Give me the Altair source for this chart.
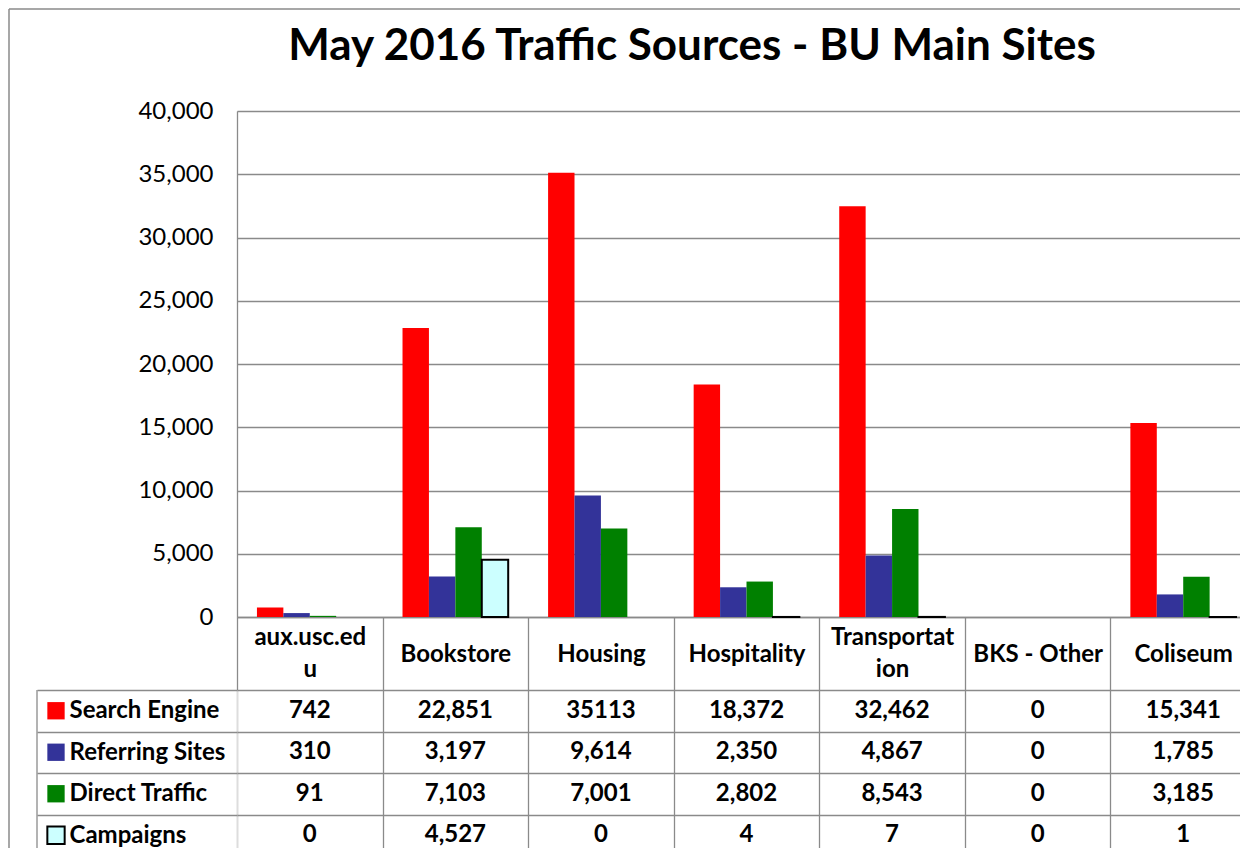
import altair as alt
import pandas as pd

# ---------------- data ----------------
categories = ["aux.usc.edu", "Bookstore", "Housing", "Hospitality",
              "Transportation", "BKS - Other", "Coliseum"]
header_lines = {"aux.usc.edu": ["aux.usc.ed", "u"],
                "Transportation": ["Transportat", "ion"]}
series = ["Search Engine", "Referring Sites", "Direct Traffic", "Campaigns"]
search_engine = [742, 22851, 35113, 18372, 32462, 0, 15341]
referring_sites = [310, 3197, 9614, 2350, 4867, 0, 1785]
direct_traffic = [91, 7103, 7001, 2802, 8543, 0, 3185]
campaigns = [0, 4527, 0, 4, 7, 0, 1]
plain_cells = {("Housing", "Search Engine")}  # shown without separator
colors = ["#FF0000", "#333399", "#008000", "#CCFFFF"]
y_ticks = list(range(0, 40001, 5000))
title_text = "May 2016 Traffic Sources - BU Main Sites"

# ---------------- tables ----------------
rows = []
for s, vals in zip(series, [search_engine, referring_sites, direct_traffic, campaigns]):
    for c, v in zip(categories, vals):
        lab = str(v) if (c, s) in plain_cells else f"{v:,}"
        rows.append({"category": c, "series": s, "value": v, "label": lab})
df = pd.DataFrame(rows)
one = pd.DataFrame({"title": [title_text]})

FONT = "Lato"
GRID = "#8a8a8a"
W, H = 1019, 506
HEAD = 73
BODY = 166
FS = 24
LEFT, TOP = 229, 103          # room for axis labels / title inside the frame
SVG_W, SVG_H = 1232, 840      # visible canvas (page is 1248x856 with 8px margin)

expr = "datum.label"
for k, v in header_lines.items():
    arr = "[" + ",".join(f"'{t}'" for t in v) + "]"
    expr = f"datum.label == '{k}' ? {arr} : " + expr
multi = "[" + ",".join(f"'{k}'" for k in header_lines) + "]"

color_enc = alt.Color("series:N", sort=series,
                      scale=alt.Scale(domain=series, range=colors), legend=None)
stroke_enc = alt.condition(alt.datum.series == "Campaigns",
                           alt.value("black"), alt.value("transparent"))

x_bars = alt.X("category:N", sort=categories,
               scale=alt.Scale(domain=categories, paddingInner=0, paddingOuter=0),
               axis=alt.Axis(title=None, orient="bottom", domainColor=GRID,
                             domainWidth=1.3, ticks=True, tickBand="extent",
                             tickSize=HEAD + BODY, tickColor=GRID, tickWidth=1.3,
                             labelExpr=expr, labelFont=FONT, labelFontSize=FS,
                             labelFontWeight="bold", labelColor="black",
                             labelBaseline="middle",
                             labelPadding={"condition": {
                                 "test": f"indexof({multi}, datum.value) >= 0",
                                 "value": 20 - (HEAD + BODY)},
                                 "value": 37 - (HEAD + BODY)},
                             labelLineHeight=32, labelAngle=0, grid=False,
                             labelLimit=300, labelOverlap=False))

bars = alt.Chart(df).transform_filter(alt.datum.value > 0).mark_bar(
    strokeWidth=2).encode(
    x=x_bars,
    xOffset=alt.XOffset("series:N", sort=series,
                        scale=alt.Scale(domain=series, paddingInner=0, paddingOuter=0.755)),
    y=alt.Y("value:Q", scale=alt.Scale(domain=[0, 40000], nice=False),
            axis=alt.Axis(title=None, values=y_ticks, format=",d", labelFont=FONT,
                          labelFontSize=FS, labelColor="black", labelPadding=24,
                          ticks=False, domainColor=GRID, domainWidth=1.3,
                          gridColor=GRID, gridWidth=1.3)),
    color=color_enc,
    stroke=stroke_enc,
)

border_left = alt.Chart(one).mark_rule(color=GRID, strokeWidth=1.5).encode(
    x=alt.value(-LEFT + 1), y=alt.value(-TOP + 1), y2=alt.value(H + HEAD + BODY))
border_top = alt.Chart(one).mark_rule(color=GRID, strokeWidth=1.5).encode(
    x=alt.value(-LEFT + 1), x2=alt.value(W), y=alt.value(-TOP + 1))
title = alt.Chart(one).mark_text(font=FONT, fontSize=44, fontWeight="bold",
                                 color="black", align="center",
                                 baseline="alphabetic").encode(
    text="title:N", x=alt.value(455), y=alt.value(-51))

chartA = alt.layer(bars, border_left, border_top, title).properties(width=W, height=H)

# ---------------- data table body ----------------
x_tab = alt.X("category:N", sort=categories,
              scale=alt.Scale(domain=categories, paddingInner=0, paddingOuter=0),
              axis=None)
y_tab = alt.Y("series:N", sort=series,
              scale=alt.Scale(domain=series, paddingInner=0, paddingOuter=0),
              axis=alt.Axis(title=None, orient="left", domain=False, ticks=True,
                            tickBand="extent", tickSize=200, tickColor=GRID,
                            tickWidth=1.3, grid=True, gridColor=GRID, gridWidth=1.3,
                            labelAlign="left", labelPadding=-32, labelFont=FONT,
                            labelFontSize=FS, labelFontWeight="bold",
                            labelColor="black", labelBaseline="middle",
                            labelLimit=300))

cells = alt.Chart(df).mark_text(font=FONT, fontSize=FS, fontWeight="bold",
                                color="black", baseline="middle", align="center").encode(
    x=x_tab, y=y_tab, text="label:N")

keys = alt.Chart(df).transform_filter(alt.datum.category == categories[0]).mark_square(
    size=300, opacity=1, strokeWidth=2).encode(
    x=alt.value(-181), y=y_tab, color=color_enc, stroke=stroke_enc)

label_border = alt.Chart(one).mark_rule(color=GRID, strokeWidth=1.3).encode(
    x=alt.value(-200), y=alt.value(0), y2=alt.value(BODY))

chartB = alt.layer(cells, keys, label_border).properties(width=W, height=BODY)

# The concatenated view reports its own width but no height, so the frame is
# completed with padding to exactly the visible canvas size.
chart = alt.vconcat(chartA, chartB, spacing=HEAD, bounds="flush").properties(
    autosize=alt.AutoSizeParams(type="none"),
    padding={"left": LEFT, "top": TOP,
             "right": SVG_W - LEFT - W, "bottom": SVG_H - TOP},
).configure_view(stroke=None).configure(background="white")

chart.save("out.html", embed_options={"renderer": "svg", "actions": False})
